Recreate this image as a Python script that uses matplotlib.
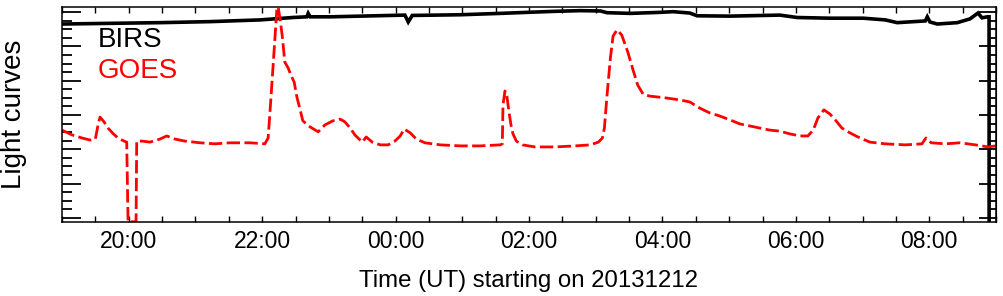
import numpy as np
import matplotlib
matplotlib.use("Agg")
import matplotlib.pyplot as plt
from matplotlib.ticker import MultipleLocator, FuncFormatter

plt.rcParams['font.family'] = ['Liberation Sans', 'DejaVu Sans']

# time in hours since 00:00 UT on 20131212 (values > 24 are the next day)
birs_t = [19.00, 19.72, 20.47, 21.22, 21.97, 22.46, 22.67, 22.69, 22.72, 23.02,
          23.47, 24.14, 24.19, 24.25, 24.97, 25.57, 25.97, 26.39, 26.77, 27.07,
          27.17, 27.52, 27.96, 28.16, 28.41, 28.52, 29.01, 29.76, 30.02, 30.51,
          31.01, 31.34, 31.52, 31.94, 31.97, 32.01, 32.12, 32.42, 32.61, 32.73,
          32.79, 32.87, 32.896, 32.897]
birs_v = [5.65, 5.67, 5.69, 5.72, 5.77, 5.84, 5.86, 5.96, 5.86, 5.86,
          5.88, 5.91, 5.71, 5.90, 5.92, 5.96, 5.99, 6.02, 6.04, 6.03,
          5.98, 5.96, 5.99, 6.01, 5.97, 5.89, 5.88, 5.91, 5.84, 5.82,
          5.82, 5.77, 5.69, 5.74, 5.86, 5.71, 5.65, 5.69, 5.80, 5.97,
          5.83, 5.86, 5.86, -0.5]

goes_t = [19.00, 19.15, 19.30, 19.42, 19.50, 19.54, 19.57, 19.63, 19.69, 19.77,
          19.84, 19.93, 19.97, 19.99, 20.11, 20.12, 20.20, 20.32, 20.47, 20.57,
          20.69, 20.84, 21.07, 21.29, 21.52, 21.82, 22.04, 22.09, 22.13, 22.16,
          22.19, 22.22, 22.24, 22.27, 22.30, 22.34, 22.39, 22.43, 22.48, 22.52,
          22.57, 22.61, 22.72, 22.84, 22.94, 23.06, 23.17, 23.24, 23.32, 23.39,
          23.50, 23.56, 23.65, 23.77, 23.89, 23.99, 24.07, 24.13, 24.22, 24.31,
          24.44, 24.67, 24.97, 25.27, 25.57, 25.60, 25.61, 25.64, 25.67, 25.70,
          25.73, 25.76, 25.81, 25.90, 26.09, 26.39, 26.69, 26.92, 27.04, 27.10,
          27.13, 27.17, 27.22, 27.26, 27.32, 27.39, 27.48, 27.56, 27.63, 27.71,
          27.81, 28.04, 28.26, 28.41, 28.56, 28.71, 28.86, 29.01, 29.16, 29.31,
          29.46, 29.61, 29.76, 29.91, 30.06, 30.18, 30.26, 30.33, 30.42, 30.51,
          30.59, 30.69, 30.81, 30.93, 31.11, 31.34, 31.64, 31.89, 31.95, 32.03,
          32.24, 32.46, 32.69, 32.88, 33.00]
goes_v = [2.56, 2.42, 2.33, 2.27, 2.30, 2.71, 2.94, 2.80, 2.62, 2.45,
          2.33, 2.24, 2.21, -0.11, -0.11, 2.24, 2.24, 2.21, 2.30, 2.39,
          2.30, 2.24, 2.19, 2.16, 2.19, 2.19, 2.16, 2.33, 3.44, 4.31,
          5.19, 6.06, 6.15, 5.77, 5.33, 4.54, 4.37, 4.17, 3.96, 3.53,
          3.15, 2.83, 2.65, 2.51, 2.71, 2.83, 2.88, 2.80, 2.62, 2.42,
          2.21, 2.36, 2.21, 2.13, 2.13, 2.24, 2.39, 2.59, 2.48, 2.30,
          2.19, 2.13, 2.10, 2.10, 2.13, 2.16, 3.29, 3.70, 3.53, 3.09,
          2.71, 2.45, 2.24, 2.13, 2.07, 2.07, 2.10, 2.13, 2.21, 2.33,
          2.62, 3.58, 4.66, 5.30, 5.48, 5.33, 4.84, 4.31, 3.87, 3.61,
          3.55, 3.50, 3.44, 3.38, 3.20, 3.06, 2.97, 2.86, 2.74, 2.68,
          2.62, 2.56, 2.53, 2.45, 2.39, 2.39, 2.56, 2.91, 3.15, 3.03,
          2.86, 2.62, 2.48, 2.36, 2.21, 2.16, 2.13, 2.16, 2.33, 2.19,
          2.16, 2.19, 2.13, 2.07, 2.10]

fig = plt.figure(figsize=(10.04, 2.96), dpi=100)
ax = fig.add_axes([62 / 1004, 1 - 222 / 296, 934 / 1004, 215 / 296])

ax.plot(birs_t, birs_v, color='black', lw=2.6, solid_joinstyle='miter')
ax.plot(goes_t, goes_v, color='red', lw=2.0, linestyle=(0, (4.8, 1.6)))

ax.set_xlim(19.0, 33.0)
ax.set_ylim(-0.117, 6.146)

ax.xaxis.set_major_locator(MultipleLocator(2))
ax.xaxis.set_minor_locator(MultipleLocator(0.5))
ax.xaxis.set_major_formatter(FuncFormatter(lambda h, p: "%02d:%02d" % (int(round(h)) % 24, 0)))
ax.yaxis.set_major_locator(MultipleLocator(1))
ax.yaxis.set_minor_locator(MultipleLocator(0.25))

ax.tick_params(axis='x', which='both', direction='in', top=True, length=4.5, width=1.0,
               labelsize=16.5, pad=6)
ax.tick_params(axis='y', which='major', direction='in', length=13.5, width=1.3, labelleft=False)
ax.tick_params(axis='y', which='minor', direction='in', length=7, width=1.3)
for s in ax.spines.values():
    s.set_linewidth(1.1)

sec = ax.secondary_yaxis('right')
sec.yaxis.set_major_locator(MultipleLocator(1))
sec.yaxis.set_minor_locator(MultipleLocator(0.25))
sec.tick_params(which='major', direction='in', length=12, width=1.3, labelright=False)
sec.tick_params(which='minor', direction='in', length=5, width=1.3)

ax.set_xlabel("Time (UT) starting on 20131212", fontsize=17.3, labelpad=12)
ax.set_ylabel("Light curves", fontsize=20)
ax.yaxis.set_label_coords(-0.0375, 0.5)

ax.text(0.0385, 0.814, "BIRS", transform=ax.transAxes, fontsize=20, color='black', va='baseline')
ax.text(0.0385, 0.670, "GOES", transform=ax.transAxes, fontsize=20, color='red', va='baseline')

fig.savefig("out.png", dpi=100)
